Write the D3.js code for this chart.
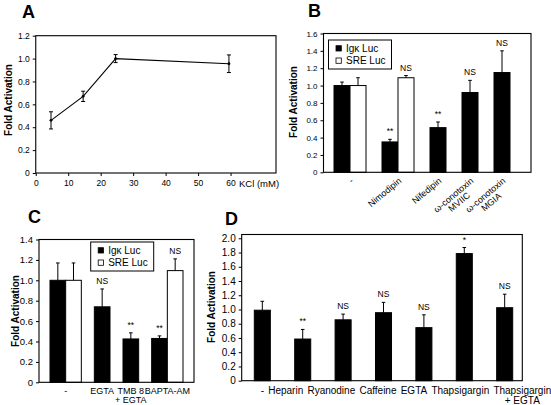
<!DOCTYPE html>
<html><head><meta charset="utf-8">
<script src="https://cdn.jsdelivr.net/npm/d3@7"></script>
<style>
body{margin:0;background:#fff}
svg{display:block}
text{font-family:"Liberation Sans",Arial,sans-serif;fill:#000}
</style>
</head><body>
<svg id="c" width="551" height="405"></svg>
<script>
// ---------------- data ----------------
// Panel A: KCl dose response
const aX = [4.7, 14.6, 24.6, 59.5];
const aY = [0.46, 0.67, 1.0, 0.955];
const aErr = [0.075, 0.045, 0.035, 0.077];
const aXTicks = [0, 10, 20, 30, 40, 50, 60];
const aYTicks = [0, 0.2, 0.4, 0.6, 0.8, 1.0, 1.2];

// legend names
const seriesNames = ["Igκ Luc", "SRE Luc"];

// Panel B
const bCats = [["-"], ["Nimodipin"], ["Nifedipin"], ["ω-conotoxin", "MVIIC"], ["ω-conotoxin", "MGIA"]];
const bIgk = [1.0, 0.35, 0.515, 0.92, 1.15];
const bIgkErr = [0.04, 0.03, 0.065, 0.14, 0.25];
const bIgkSig = ["", "**", "**", "NS", "NS"];
const bSre = [1.0, 1.09, null, null, null];
const bSreErr = [0.09, 0.025, null, null, null];
const bSreSig = ["", "NS", "", "", ""];
const bYTicks = [0, 0.2, 0.4, 0.6, 0.8, 1.0, 1.2, 1.4, 1.6];

// Panel C
const cCats = [["-"], ["EGTA"], ["TMB 8", "+ EGTA"], ["BAPTA-AM"]];
const cIgk = [1.0, 0.74, 0.425, 0.43];
const cIgkErr = [0.17, 0.175, 0.06, 0.025];
const cIgkSig = ["", "NS", "**", "**"];
const cSre = [1.0, null, null, 1.095];
const cSreErr = [0.17, null, null, 0.115];
const cSreSig = ["", "", "", "NS"];
const cYTicks = [0, 0.2, 0.4, 0.6, 0.8, 1.0, 1.2, 1.4];

// Panel D
const dCats = [["-"], ["Heparin"], ["Ryanodine"], ["Caffeine"], ["EGTA"], ["Thapsigargin"], ["Thapsigargin", "+ EGTA"]];
const dVals = [0.99, 0.585, 0.855, 0.955, 0.745, 1.785, 1.025];
const dErr = [0.125, 0.135, 0.08, 0.145, 0.18, 0.085, 0.19];
const dSig = ["", "**", "NS", "NS", "NS", "*", "NS"];
const dYTicks = [0, 0.2, 0.4, 0.6, 0.8, 1.0, 1.2, 1.4, 1.6, 1.8, 2.0];

// ---------------- drawing ----------------
const svg = d3.select("#c");
const fmt = d => d === 0 ? "0" : d3.format(".1f")(d);

function frame(g, l, t, r, b) {
  g.append("rect").attr("x", l).attr("y", t).attr("width", r - l).attr("height", b - t)
    .attr("fill", "none").attr("stroke", "#000").attr("stroke-width", 1.1);
}
function yAxis(g, y, x0, ticks, fs) {
  const ax = g.append("g").attr("transform", `translate(${x0},0)`)
    .call(d3.axisLeft(y).tickValues(ticks).tickSize(3).tickPadding(3).tickFormat(fmt));
  ax.select(".domain").remove();
  ax.selectAll("text").style("font-size", fs + "px").attr("fill", "#000");
  ax.selectAll("line").attr("stroke", "#000");
}
function yLabel(x, y) {
  svg.append("text").attr("transform", `translate(${x},${y}) rotate(-90)`)
    .attr("text-anchor", "middle").style("font-size", "10px").style("font-weight", "bold")
    .text("Fold Activation");
}
function title(t, x, y) {
  svg.append("text").attr("x", x).attr("y", y).style("font-size", "18px").style("font-weight", "bold").text(t);
}
function errBar(g, cx, y0, y1, hw) {
  g.append("line").attr("x1", cx).attr("x2", cx).attr("y1", y0).attr("y2", y1).attr("stroke", "#000").attr("stroke-width", 1);
  g.append("line").attr("x1", cx - hw).attr("x2", cx + hw).attr("y1", y1).attr("y2", y1).attr("stroke", "#000").attr("stroke-width", 1);
}
function legend(g, x, y) {
  g.append("rect").attr("x", x).attr("y", y).attr("width", 63).attr("height", 29)
    .attr("fill", "#fff").attr("stroke", "#000").attr("stroke-width", 1);
  seriesNames.forEach((n, i) => {
    const by = y + 12 + i * 12.3;
    g.append("rect").attr("x", x + 7.5).attr("y", by - 6.3).attr("width", 5.3).attr("height", 5.3)
      .attr("fill", i === 0 ? "#000" : "#fff").attr("stroke", "#000").attr("stroke-width", 0.8);
    g.append("text").attr("x", x + 17.5).attr("y", by).style("font-size", "10px").text(n);
  });
}

// ---- Panel A ----
(function () {
  const g = svg.append("g");
  const L = 35.75, R = 276, T = 35.7, B = 173;
  const x = d3.scaleLinear().domain([0, 74]).range([L, R]);
  const y = d3.scaleLinear().domain([0, 1.2]).range([B, T]);
  yAxis(g, y, L, aYTicks, 8.5);
  const xa = g.append("g").attr("transform", `translate(0,${B})`)
    .call(d3.axisBottom(x).tickValues(aXTicks).tickSize(3).tickPadding(4));
  xa.select(".domain").remove();
  xa.selectAll("text").style("font-size", "8.5px");
  frame(g, L, T, R, B);
  const pts = aX.map((v, i) => [v, aY[i], aErr[i]]);
  g.append("path").datum(pts).attr("fill", "none").attr("stroke", "#000").attr("stroke-width", 1.1)
    .attr("d", d3.line().x(d => x(d[0])).y(d => y(d[1])));
  pts.forEach(d => {
    const cx = x(d[0]);
    g.append("line").attr("x1", cx).attr("x2", cx).attr("y1", y(d[1] - d[2])).attr("y2", y(d[1] + d[2])).attr("stroke", "#000");
    [d[1] - d[2], d[1] + d[2]].forEach(v => g.append("line").attr("x1", cx - 2).attr("x2", cx + 2)
      .attr("y1", y(v)).attr("y2", y(v)).attr("stroke", "#000"));
    g.append("circle").attr("cx", cx).attr("cy", y(d[1])).attr("r", 1.4).attr("fill", "#000");
  });
  g.append("text").attr("x", 239).attr("y", B + 13.5).style("font-size", "9.5px").text("KCl (mM)");
  yLabel(11.7, 100);
  title("A", 22, 18);
})();

// ---- generic bar panel ----
function barPanel(o) {
  const g = svg.append("g");
  const y = d3.scaleLinear().domain([0, o.yMax]).range([o.B, o.T]);
  const slots = []; const centers = []; let u = 0;
  o.cats.forEach((c, i) => {
    const start = u;
    o.series.forEach((s, si) => {
      if (s.vals[i] != null) {
        slots.push({ i, u, v: s.vals[i], e: s.errs[i], sig: s.sigs[i], fill: s.fill });
        u += 1;
      }
    });
    centers.push([start, u]);
    if (i < o.cats.length - 1) u += o.gap;
  });
  const xs = d3.scaleLinear().domain([0, u]).range(o.barRange);
  yAxis(g, y, o.L, o.ticks, o.fs);
  slots.forEach(s => {
    const x0 = xs(s.u), x1 = xs(s.u + 1);
    g.append("rect").attr("x", x0).attr("y", y(s.v)).attr("width", x1 - x0).attr("height", y(0) - y(s.v))
      .attr("fill", s.fill).attr("stroke", "#000").attr("stroke-width", 1);
    const cx = (x0 + x1) / 2;
    errBar(g, cx, y(s.v), y(s.v + s.e), 1.8);
    if (s.sig) g.append("text").attr("x", cx).attr("y", y(s.v + s.e) - 5).attr("text-anchor", "middle")
      .style("font-size", "8.5px").text(s.sig);
  });
  frame(g, o.L, o.T, o.R, o.B);
  return { g, y, xs, centers: centers.map(c => xs((c[0] + c[1]) / 2)) };
}

// ---- Panel B ----
(function () {
  const p = barPanel({
    L: 323.5, R: 531, T: 33.5, B: 172.3, yMax: 1.6, ticks: bYTicks, fs: 8, gap: 1, barRange: [334, 510],
    cats: bCats,
    series: [{ vals: bIgk, errs: bIgkErr, sigs: bIgkSig, fill: "#000" },
             { vals: bSre, errs: bSreErr, sigs: bSreSig, fill: "#fff" }]
  });
  legend(p.g, 328.5, 40);
  bCats.forEach((lines, i) => {
    const gg = p.g.append("g").attr("transform", `translate(${p.centers[i] + 4},${172.3 + 9.5}) rotate(-40)`);
    const t1 = gg.append("text").attr("text-anchor", "end").style("font-size", "9px").text(lines[0]);
    if (lines[1]) {
      const w = t1.node().getComputedTextLength();
      gg.append("text").attr("x", -w / 2).attr("y", 9).attr("text-anchor", "middle").style("font-size", "9px").text(lines[1]);
    }
  });
  yLabel(296.5, 102);
  title("B", 308, 17);
})();

// ---- Panel C ----
(function () {
  const p = barPanel({
    L: 39, R: 194, T: 239.5, B: 382.3, yMax: 1.4, ticks: cYTicks, fs: 9.5, gap: 0.83, barRange: [50, 183],
    cats: cCats,
    series: [{ vals: cIgk, errs: cIgkErr, sigs: cIgkSig, fill: "#000" },
             { vals: cSre, errs: cSreErr, sigs: cSreSig, fill: "#fff" }]
  });
  legend(p.g, 90.7, 242);
  cCats.forEach((lines, i) => {
    lines.forEach((ln, k) => p.g.append("text").attr("x", p.centers[i]).attr("y", 393.5 + k * 9.5)
      .attr("text-anchor", "middle").style("font-size", "9px").text(ln));
  });
  yLabel(18.5, 311);
  title("C", 28, 223);
})();

// ---- Panel D ----
(function () {
  const p = barPanel({
    L: 241.7, R: 522.3, T: 234.5, B: 380.7, yMax: 2.053, ticks: dYTicks, fs: 10, gap: 1.52, barRange: [254.3, 512.7],
    cats: dCats,
    series: [{ vals: dVals, errs: dErr, sigs: dSig, fill: "#000" }]
  });
  // labels typed as a flowing row
  let cursor = null;
  dCats.forEach((lines, i) => {
    const t = p.g.append("text").attr("y", 393.5).style("font-size", "10px").text(lines[0]);
    const w = t.node().getComputedTextLength();
    if (cursor === null) cursor = p.centers[0] - w / 2;
    t.attr("x", cursor);
    if (lines[1]) p.g.append("text").attr("x", cursor + w / 2).attr("y", 403.8).attr("text-anchor", "middle")
      .style("font-size", "10px").text(lines[1]);
    cursor += w + 4.2;
  });
  yLabel(215, 307);
  title("D", 225, 225);
})();
</script>
</body></html>
